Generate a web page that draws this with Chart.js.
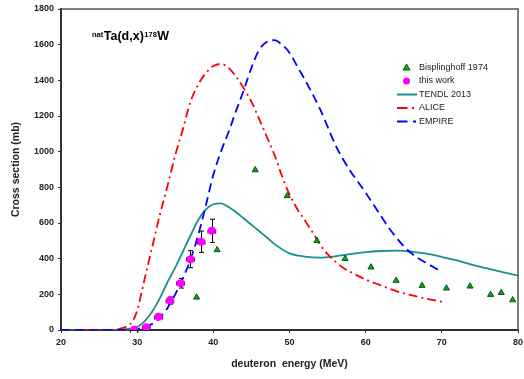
<!DOCTYPE html>
<html>
<head>
<meta charset="utf-8">
<script src="https://cdn.jsdelivr.net/npm/chart.js@4.4.1/dist/chart.umd.min.js"></script>
<style>
  html, body { margin: 0; padding: 0; background: #fff; }
  #wrap { width: 524px; height: 379px; }
</style>
</head>
<body>
<div id="wrap"><canvas id="xsChart" width="524" height="379"></canvas></div>
<script>
var bispE = [37.8, 40.5, 45.5, 49.7, 53.6, 57.3, 60.7, 64.0, 67.4, 70.6, 73.7, 76.4, 77.8, 79.3];
var bispXS = [183, 449, 897, 752, 501, 400, 352, 277, 249, 234, 245, 198, 209, 168];

var workE = [29.6, 31.2, 32.8, 34.3, 35.7, 37.0, 38.4, 39.8];
var workXS = [2, 15, 75, 165, 262, 397, 495, 556];
var workErrE = [0.5, 0.5, 0.5, 0.5, 0.5, 0.5, 0.5, 0.5];
var workErrXS = [4, 8, 12, 20, 27, 48, 60, 65];

var tendlE = [20, 26, 28, 29, 30, 31, 32, 33, 34, 35, 36, 37, 38, 39, 40, 41, 42, 43, 44, 45, 46, 47, 48, 50, 52, 54, 56, 58, 60, 62, 64, 66, 68, 70, 72, 74, 76, 78, 80];
var tendlXS = [0, 0, 3, 8, 18, 50, 105, 180, 270, 350, 440, 530, 615, 675, 705, 710, 690, 660, 625, 590, 555, 520, 483, 430, 412, 406, 413, 425, 437, 443, 445, 440, 428, 410, 390, 365, 345, 325, 305];

var aliceE = [20, 27, 28, 29, 29.5, 30, 31, 32, 33, 34, 35, 36, 37, 38, 39, 40, 41, 42, 43, 44, 45, 46, 47, 48, 49, 50, 51, 52, 53, 54, 55, 56, 57, 58, 60, 62, 64, 66, 68, 70];
var aliceXS = [0, 0, 10, 30, 56, 110, 290, 470, 650, 810, 980, 1125, 1280, 1375, 1440, 1480, 1492, 1470, 1420, 1355, 1280, 1185, 1085, 985, 865, 760, 680, 615, 550, 480, 425, 385, 350, 325, 283, 250, 218, 195, 175, 158];

var empireE = [20, 28, 29, 30, 31, 32, 33, 34, 35, 36, 37, 38, 39, 40, 41, 42, 43, 44, 45, 46, 47, 48, 49, 50, 51, 52, 53, 54, 55, 56, 57, 58, 59, 60, 61, 62, 63, 64, 65, 66, 67, 68, 69, 69.7];
var empireXS = [0, 0, 2, 6, 15, 35, 70, 125, 200, 290, 395, 530, 695, 870, 1000, 1110, 1230, 1346, 1470, 1570, 1615, 1625, 1600, 1555, 1480, 1405, 1325, 1240, 1140, 1040, 960, 890, 830, 770, 705, 640, 575, 520, 470, 430, 400, 375, 350, 333];

var xTicks = [20, 30, 40, 50, 60, 70, 80];
var yTicks = [0, 200, 400, 600, 800, 1000, 1200, 1400, 1600, 1800];

function pts(xs, ys) {
  return xs.map(function(x, i) { return {x: x, y: ys[i]}; });
}

const FONT = "'Liberation Sans', Arial, sans-serif";

// error bars on "this work" points (drawn before the datasets so dots sit on top)
const errorBars = {
  id: 'errorBars',
  beforeDatasetsDraw: function(chart) {
    const ctx = chart.ctx, xs = chart.scales.x, ys = chart.scales.y;
    ctx.save();
    ctx.strokeStyle = '#000';
    ctx.lineWidth = 1;
    for (let i = 0; i < workE.length; i++) {
      const px = Math.round(xs.getPixelForValue(workE[i])) + 0.5, py = Math.round(ys.getPixelForValue(workXS[i])) + 0.5;
      const top = ys.getPixelForValue(workXS[i] + workErrXS[i]);
      const bot = ys.getPixelForValue(workXS[i] - workErrXS[i]);
      const l = xs.getPixelForValue(workE[i] - workErrE[i]);
      const r = xs.getPixelForValue(workE[i] + workErrE[i]);
      ctx.beginPath();
      ctx.moveTo(px, top); ctx.lineTo(px, bot);
      ctx.moveTo(px - 2.5, top); ctx.lineTo(px + 2.5, top);
      ctx.moveTo(px - 2.5, bot); ctx.lineTo(px + 2.5, bot);
      ctx.moveTo(l, py); ctx.lineTo(r, py);
      ctx.moveTo(l, py - 2); ctx.lineTo(l, py + 2);
      ctx.moveTo(r, py - 2); ctx.lineTo(r, py + 2);
      ctx.stroke();
    }
    ctx.restore();
  }
};

// frame, reaction label and legend
const decor = {
  id: 'decor',
  afterDraw: function(chart) {
    const ctx = chart.ctx, a = chart.chartArea;
    ctx.save();
    // top and right frame lines
    ctx.strokeStyle = '#555';
    ctx.lineWidth = 1.5;
    ctx.beginPath();
    ctx.moveTo(a.left, a.top); ctx.lineTo(a.right, a.top); ctx.lineTo(a.right, a.bottom);
    ctx.stroke();

    // reaction label natTa(d,x)178W
    ctx.fillStyle = '#000';
    ctx.textBaseline = 'alphabetic';
    let x = 92;
    ctx.font = 'bold 7.5px ' + FONT;
    ctx.fillText('nat', x, 36.5); x += ctx.measureText('nat').width + 0.5;
    ctx.font = 'bold 12.5px ' + FONT;
    ctx.fillText('Ta(d,x)', x, 40); x += ctx.measureText('Ta(d,x)').width + 0.5;
    ctx.font = 'bold 7.5px ' + FONT;
    ctx.fillText('178', x, 36.5); x += ctx.measureText('178').width + 0.5;
    ctx.font = 'bold 12.5px ' + FONT;
    ctx.fillText('W', x, 40);

    // legend
    ctx.font = '9px ' + FONT;
    ctx.textBaseline = 'middle';
    const tx = 419;
    const rows = [67.5, 81, 94.5, 108, 121.5];
    // triangle
    ctx.beginPath();
    ctx.moveTo(406.5, rows[0] - 3.5); ctx.lineTo(410, rows[0] + 2.5); ctx.lineTo(403, rows[0] + 2.5); ctx.closePath();
    ctx.fillStyle = '#10a020'; ctx.fill();
    ctx.strokeStyle = '#005a10'; ctx.lineWidth = 1; ctx.stroke();
    // dot
    ctx.beginPath(); ctx.arc(406.5, rows[1], 3.5, 0, Math.PI * 2);
    ctx.fillStyle = '#ff00ff'; ctx.fill();
    // TENDL line
    ctx.lineWidth = 2;
    ctx.strokeStyle = '#1a8f8f';
    ctx.beginPath(); ctx.moveTo(397, rows[2]); ctx.lineTo(417, rows[2]); ctx.stroke();
    // ALICE
    ctx.strokeStyle = '#ff0000';
    ctx.beginPath(); ctx.moveTo(397, rows[3]); ctx.lineTo(407.5, rows[3]);
    ctx.moveTo(412, rows[3]); ctx.lineTo(414, rows[3]); ctx.stroke();
    // EMPIRE
    ctx.strokeStyle = '#0000ff';
    ctx.beginPath(); ctx.moveTo(397, rows[4]); ctx.lineTo(407.5, rows[4]);
    ctx.moveTo(413, rows[4]); ctx.lineTo(416, rows[4]); ctx.stroke();

    ctx.fillStyle = '#222';
    const names = ['Bisplinghoff 1974', 'this work', 'TENDL 2013', 'ALICE', 'EMPIRE'];
    names.forEach(function(n, i) { ctx.fillText(n, tx, rows[i]); });
    ctx.restore();
  }
};

const canvas = document.getElementById('xsChart');
new Chart(canvas, {
  type: 'scatter',
  plugins: [errorBars, decor],
  data: {
    datasets: [
      {
        label: 'this work',
        data: pts(workE, workXS),
        pointStyle: 'circle',
        pointRadius: 4,
        pointHoverRadius: 4,
        backgroundColor: '#ff00ff',
        borderColor: '#ff00ff',
        borderWidth: 0,
        showLine: false,
        order: 0
      },
      {
        label: 'Bisplinghoff 1974',
        data: pts(bispE, bispXS),
        pointStyle: 'triangle',
        pointRadius: 3.5,
        backgroundColor: '#10a020',
        borderColor: '#005a10',
        borderWidth: 1,
        showLine: false,
        order: 1
      },
      {
        label: 'TENDL 2013',
        data: pts(tendlE, tendlXS),
        showLine: true,
        borderColor: '#1a8f8f',
        borderWidth: 1.8,
        pointRadius: 0,
        cubicInterpolationMode: 'monotone',
        order: 4
      },
      {
        label: 'ALICE',
        data: pts(aliceE, aliceXS),
        showLine: true,
        borderColor: '#ff0000',
        borderWidth: 1.8,
        borderDash: [9, 4, 2, 4],
        pointRadius: 0,
        cubicInterpolationMode: 'monotone',
        order: 3
      },
      {
        label: 'EMPIRE',
        data: pts(empireE, empireXS),
        showLine: true,
        borderColor: '#0000ff',
        borderWidth: 1.8,
        borderDash: [9, 5],
        pointRadius: 0,
        cubicInterpolationMode: 'monotone',
        order: 2
      }
    ]
  },
  options: {
    responsive: false,
    maintainAspectRatio: false,
    animation: false,
    events: [],
    layout: { padding: { left: 0, top: 9, right: 6, bottom: 0 } },
    plugins: {
      legend: { display: false },
      tooltip: { enabled: false }
    },
    scales: {
      x: {
        type: 'linear',
        min: 20, max: 80,
        afterBuildTicks: function(s) { s.ticks = xTicks.map(function(v) { return {value: v}; }); },
        afterFit: function(s) { s.height = 49; s.paddingLeft = 0; s.paddingRight = 0; },
        grid: { display: true, drawOnChartArea: false, tickLength: 3, color: '#333' },
        border: { color: '#333', width: 2 },
        ticks: { color: '#222', font: { family: FONT, size: 9, weight: 'bold' }, padding: 4, maxRotation: 0,
                 callback: function(v) { return String(v); } },
        title: { display: true, text: 'deuteron  energy (MeV)', color: '#222',
                 font: { family: FONT, size: 10.5, weight: 'bold' }, padding: { top: 8, bottom: 9 } }
      },
      y: {
        type: 'linear',
        min: 0, max: 1800,
        afterBuildTicks: function(s) { s.ticks = yTicks.map(function(v) { return {value: v}; }); },
        afterFit: function(s) { s.width = 61; s.paddingTop = 0; s.paddingBottom = 0; },
        grid: { display: true, drawOnChartArea: false, tickLength: 3, color: '#333' },
        border: { color: '#333', width: 2 },
        ticks: { color: '#222', font: { family: FONT, size: 9, weight: 'bold' }, padding: 4,
                 callback: function(v) { return String(v); } },
        title: { display: true, text: 'Cross section (mb)', color: '#222',
                 font: { family: FONT, size: 10.5, weight: 'bold' }, padding: { top: 10, bottom: 0 } }
      }
    }
  }
});
</script>
</body>
</html>
